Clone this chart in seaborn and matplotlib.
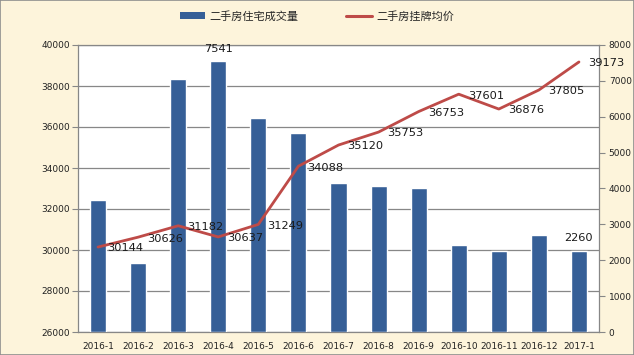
import matplotlib
matplotlib.use('Agg')
import matplotlib.pyplot as plt
import seaborn as sns
import numpy as np
from matplotlib.patches import Patch, Rectangle
from matplotlib.lines import Line2D

months = ['2016-1', '2016-2', '2016-3', '2016-4', '2016-5', '2016-6', '2016-7',
          '2016-8', '2016-9', '2016-10', '2016-11', '2016-12', '2017-1']
volume = [3690, 1915, 7060, 7541, 5955, 5540, 4160, 4076, 4010, 2430, 2270, 2710, 2260]
price = [30144, 30626, 31182, 30637, 31249, 34088, 35120, 35753, 36753, 37601, 36876, 37805, 39173]
vol_labeled = ['2016-4', '2017-1']

bar_name = '二手房住宅成交量'
line_name = '二手房挂牌均价'

bar_color = '#365F97'
line_color = '#BE4B48'
grid_color = '#878787'

sns.set_style('white')
plt.rcParams['font.family'] = ['DejaVu Sans', 'Noto Sans CJK SC']

fig = plt.figure(figsize=(6.34, 3.55), dpi=100, facecolor='#FDF4DB')
fig.patches.append(Rectangle((0, 0), 1, 1, transform=fig.transFigure, fill=False,
                             edgecolor='#8E8E8E', lw=1.2))

# base axes: white area, grid, left scale (price)
ax = fig.add_axes([78 / 634, 23 / 355, 521 / 634, 287 / 355])
ax.set_facecolor('white')
ax.set_ylim(26000, 40000)
ax.set_yticks(np.arange(26000, 40001, 2000))
ax.grid(axis='y', color=grid_color, lw=0.9)
ax.set_axisbelow(True)

# bars on right scale
ax_bar = ax.twinx()
sns.barplot(x=months, y=volume, ax=ax_bar, color=bar_color, saturation=1, width=0.4)
ax_bar.set_ylim(0, 8000)
ax_bar.set_yticks(np.arange(0, 8001, 1000))
ax_bar.set_ylabel('')
for i, m in enumerate(months):
    if m in vol_labeled:
        ax_bar.annotate(str(volume[i]), (i, volume[i]), xytext=(0, 9), textcoords='offset points',
                        ha='center', va='center', fontsize=8.2, color='#1a1a1a')

# line on top, same scale as base axes
ax_line = ax.twinx()
ax_line.set_ylim(26000, 40000)
idx = np.arange(len(months))
sns.lineplot(x=idx, y=price, ax=ax_line, color=line_color, lw=2)
ax_line.yaxis.set_visible(False)
for i, v in enumerate(price):
    ax_line.annotate(str(v), (i, v), xytext=(6.5, -1), textcoords='offset points',
                     ha='left', va='center', fontsize=8.2, color='#1a1a1a')

for a in (ax_bar, ax_line):
    for s in a.spines.values():
        s.set_visible(False)
for s in ax.spines.values():
    s.set_color(grid_color)
    s.set_linewidth(0.9)

ax.set_xlim(-0.5, len(months) - 0.5)
ax.set_xticks(idx)
ax.set_xticklabels(months)
ax.set_xticks(idx[:-1] + 0.5, minor=True)
ax.tick_params(axis='x', which='major', length=0, pad=7, labelsize=6.5, colors='#222222')
ax.tick_params(axis='x', which='minor', length=4, color=grid_color, direction='out')
ax.tick_params(axis='y', length=4, color=grid_color, pad=1.5, labelsize=6.5, labelcolor='#222222',
               left=True)
ax_bar.tick_params(axis='y', length=4, color=grid_color, pad=3, labelsize=6.5, labelcolor='#222222',
                   right=True)
ax.set_xlabel('')

handles = [Patch(facecolor=bar_color, edgecolor='none'),
           Line2D([0], [0], color=line_color, lw=2.2)]
fig.legend(handles, [bar_name, line_name], loc='center', bbox_to_anchor=(0.5, 1 - 16 / 355),
           ncol=2, frameon=False, fontsize=8, handlelength=2.3, handletextpad=0.4,
           columnspacing=4.3, handleheight=0.6)

fig.savefig('out.png', dpi=100, facecolor=fig.get_facecolor())
